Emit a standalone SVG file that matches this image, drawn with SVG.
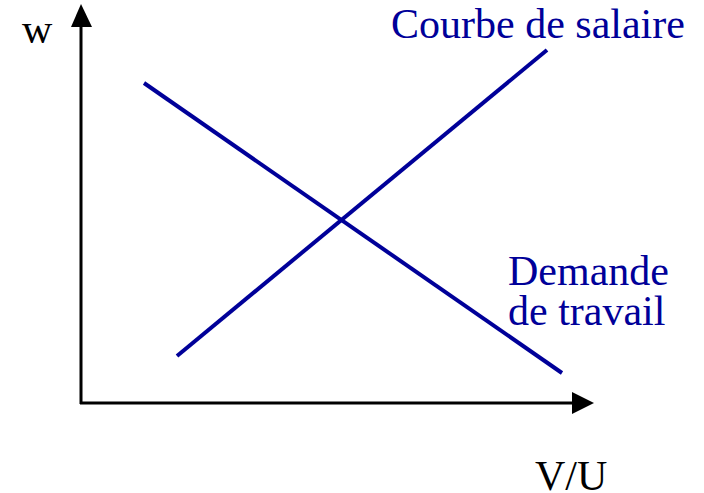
<svg xmlns="http://www.w3.org/2000/svg" width="704" height="493" viewBox="0 0 704 493">
<style>
.lbl{font-family:"Liberation Serif","Times New Roman",serif;font-size:42px}
.blue{fill:#000099}
.axis{stroke:#000;stroke-width:3;fill:none}
.curve{stroke:#000099;stroke-width:4;fill:none}
</style>
<rect width="704" height="493" fill="#fff"/>
<g id="axes">
<line class="axis" x1="81" y1="404" x2="81" y2="24"/>
<line class="axis" x1="80" y1="403" x2="574" y2="403"/>
<polygon points="81,4 71,27 92,27" fill="#000"/>
<polygon points="594,403 572,392 572,414" fill="#000"/>
</g>
<g id="connectors">
<line class="curve" x1="144" y1="83" x2="562" y2="373"/>
<line class="curve" x1="177" y1="356" x2="547" y2="50"/>
</g>
<g id="labels">
<text class="lbl" x="22" y="43">w</text>
<text class="lbl" x="535" y="490">V/U</text>
<text class="lbl blue" x="391" y="38">Courbe de salaire</text>
<text class="lbl blue" x="508" y="285">Demande</text>
<text class="lbl blue" x="508" y="325">de travail</text>
</g>
</svg>
